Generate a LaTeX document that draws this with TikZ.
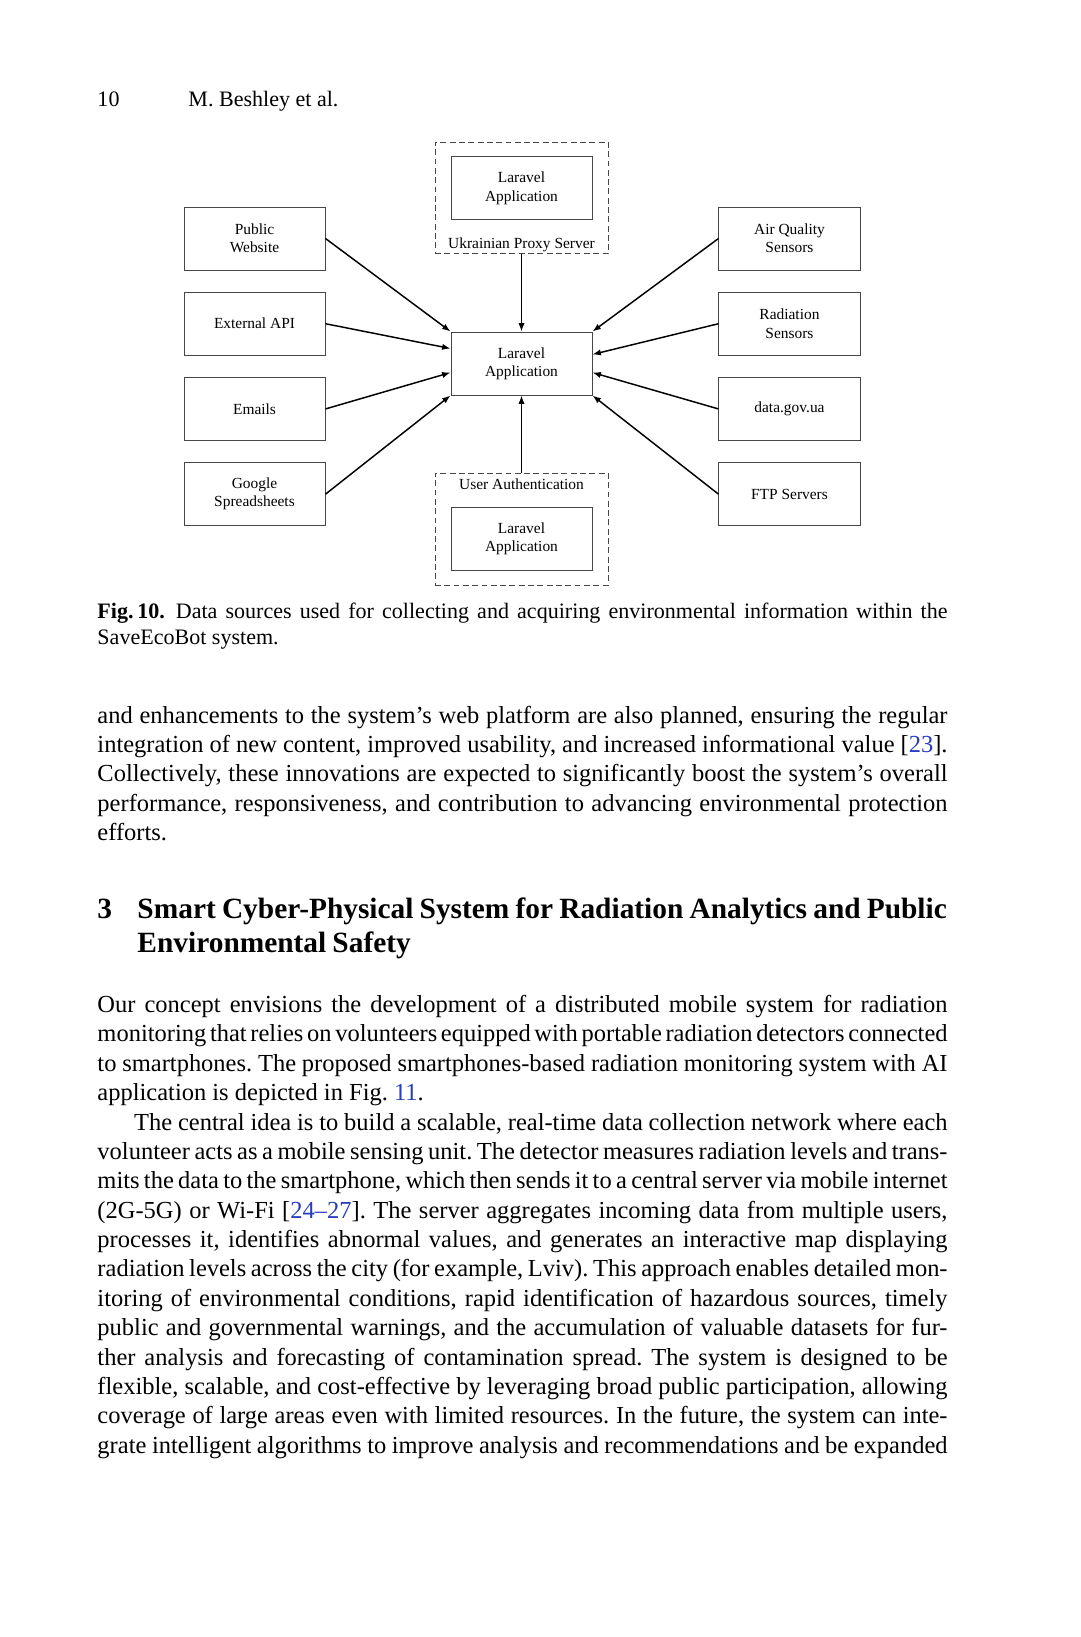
\documentclass[tikz,border=0pt]{standalone}
\usepackage{fontspec}
\setmainfont{Liberation Serif}
\usepackage{tikz}
\usetikzlibrary{positioning,arrows.meta}
\definecolor{boxline}{RGB}{70,70,70}
\definecolor{linkblue}{RGB}{40,60,190}
\newcommand{\justline}[1]{\makebox[122mm][s]{\spaceskip=0.25em plus 0.3em minus 0.12em\relax #1}}
\newcommand{\refnum}[1]{\textcolor{linkblue}{#1}}
\tikzset{
  srcbox/.style={rectangle,draw=boxline,line width=0.4pt,align=center,minimum width=20.24mm,minimum height=9.04mm,font=\fontsize{6.3}{7.4}\selectfont},
  dashbox/.style={rectangle,draw=boxline,line width=0.4pt,dash pattern=on 2.4pt off 1.4pt,minimum width=24.83mm,minimum height=16.07mm},
  boxlabel/.style={inner sep=0pt,font=\fontsize{6.3}{7.4}\selectfont},
  feed/.style={-{Latex[length=1.2mm,width=0.9mm]},line width=0.6pt},
  pagetext/.style={inner sep=0pt,anchor=base west,align=justify},
  bodytext/.style={pagetext,text width=122mm,font=\fontsize{10}{12}\selectfont\frenchspacing}
}

\begin{document}
\begin{tikzpicture}[x=0.14352mm,y=-0.14352mm,node distance=3.05mm]
  \path[use as bounding box,fill=white] (0,0) rectangle (1080,1637);
  % running head
  \node[pagetext,font=\fontsize{9}{11}\selectfont] (pageno) at (97,106) {10};
  \node[pagetext,font=\fontsize{9}{11}\selectfont] (authors) at (188,106) {M. Beshley et al.};
  % figure
  \node[srcbox] (app) at (521.5,363.5) {Laravel\\Application};
  \node[srcbox] (web) at (254.5,238.5) {Public\\Website};
  \node[srcbox,below=of web] (api) {External API};
  \node[srcbox,below=of api] (mail) {Emails};
  \node[srcbox,below=of mail] (sheets) {Google\\Spreadsheets};
  \node[srcbox,right=56.4mm of web] (air) {Air Quality\\Sensors};
  \node[srcbox,below=of air] (rad) {Radiation\\Sensors};
  \node[srcbox,below=of rad] (gov) {data.gov.ua};
  \node[srcbox,below=of gov] (ftp) {FTP Servers};
  \node[dashbox] (proxy) at (521.5,198) {};
  \node[srcbox] (proxyapp) at (521.5,188.3) {Laravel\\Application};
  \node[boxlabel] (proxylbl) at (521.5,245) {Ukrainian Proxy Server};
  \node[dashbox] (auth) at (521.5,529) {};
  \node[srcbox] (authapp) at (521.5,539) {Laravel\\Application};
  \node[boxlabel] (authlbl) at (521.5,484) {User Authentication};
  \draw[feed] (web.east) -- (app.north west);
  \draw[feed] (api.east) -- ([yshift=2.15mm]app.west);
  \draw[feed] (mail.east) -- ([yshift=-1.3mm]app.west);
  \draw[feed] (sheets.east) -- (app.south west);
  \draw[feed] (air.west) -- (app.north east);
  \draw[feed] (rad.west) -- ([yshift=1.3mm]app.east);
  \draw[feed] (gov.west) -- ([yshift=-1.3mm]app.east);
  \draw[feed] (ftp.west) -- (app.south east);
  \draw[feed] (proxy.south) -- (app.north);
  \draw[feed] (auth.north) -- (app.south);
  % caption
  \node[pagetext,text width=122mm,font=\fontsize{9}{11}\selectfont\frenchspacing] (caption) at (97,618)
    {\justline{\textbf{Fig.\,10.}\enspace Data sources used for collecting and acquiring environmental information within the}\\
     SaveEcoBot system.};
  % text before the section
  \node[bodytext] (para1) at (97,723)
    {\justline{and enhancements to the system’s web platform are also planned, ensuring the regular}\\
     \justline{integration of new content, improved usability, and increased informational value [\refnum{23}].}\\
     \justline{Collectively, these innovations are expected to significantly boost the system’s overall}\\
     \justline{performance, responsiveness, and contribution to advancing environmental protection}\\
     efforts.};
  % section heading
  \node[pagetext,font=\fontsize{12}{14}\bfseries] (secno) at (97,918.5) {3};
  \node[pagetext,text width=125mm,font=\fontsize{12}{14}\bfseries] (sectitle) at (137,918.5)
    {\spaceskip=0.21em\relax Smart Cyber-Physical System for Radiation Analytics and Public\\Environmental Safety};
  % section text
  \node[bodytext] (para2) at (97,1012.4)
    {\justline{Our concept envisions the development of a distributed mobile system for radiation}\\
     \justline{monitoring that relies on volunteers equipped with portable radiation detectors connected}\\
     \justline{to smartphones. The proposed smartphones-based radiation monitoring system with AI}\\
     application is depicted in Fig.~\refnum{11}.};
  \node[bodytext] (para3) at (97,1130)
    {\justline{\hspace*{15pt}The central idea is to build a scalable, real-time data collection network where each}\\
     \justline{volunteer acts as a mobile sensing unit. The detector measures radiation levels and trans-}\\
     \justline{mits the data to the smartphone, which then sends it to a central server via mobile internet}\\
     \justline{(2G-5G) or Wi-Fi [\refnum{24--27}]. The server aggregates incoming data from multiple users,}\\
     \justline{processes it, identifies abnormal values, and generates an interactive map displaying}\\
     \justline{radiation levels across the city (for example, Lviv). This approach enables detailed mon-}\\
     \justline{itoring of environmental conditions, rapid identification of hazardous sources, timely}\\
     \justline{public and governmental warnings, and the accumulation of valuable datasets for fur-}\\
     \justline{ther analysis and forecasting of contamination spread. The system is designed to be}\\
     \justline{flexible, scalable, and cost-effective by leveraging broad public participation, allowing}\\
     \justline{coverage of large areas even with limited resources. In the future, the system can inte-}\\
     \justline{grate intelligent algorithms to improve analysis and recommendations and be expanded}};
\end{tikzpicture}
\end{document}
